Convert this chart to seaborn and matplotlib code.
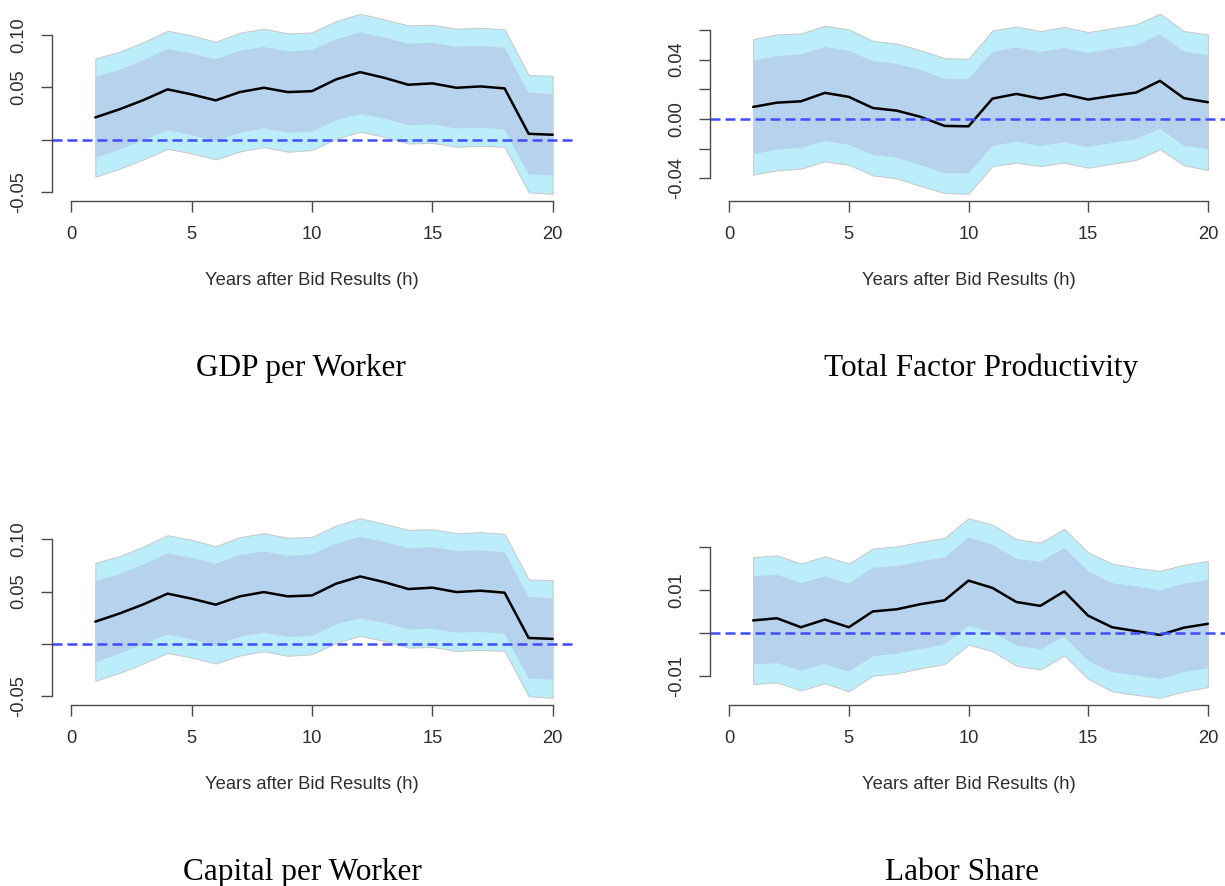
import pandas as pd
import matplotlib
matplotlib.use("Agg")
from matplotlib import pyplot as plt
import seaborn as sns

sns.set_theme(style="ticks")
plt.rcParams["font.family"] = ["Liberation Sans", "DejaVu Sans"]

h = list(range(1, 21))

# GDP per worker (capital per worker panel shows the same estimates)
gdp_mean = [0.0213, 0.029, 0.0378, 0.048, 0.0432, 0.0375, 0.0454, 0.0495, 0.0454, 0.0463,
            0.0575, 0.0644, 0.059, 0.0524, 0.0537, 0.0495, 0.0508, 0.0489, 0.0057, 0.0048]
gdp_hi68 = [0.060, 0.0663, 0.0759, 0.0863, 0.0822, 0.0765, 0.0848, 0.0883, 0.0841, 0.0854,
            0.0956, 0.1022, 0.0975, 0.0914, 0.0924, 0.0886, 0.0892, 0.0876, 0.0448, 0.0435]
gdp_lo68 = [-0.0175, -0.0092, -0.0003, 0.0092, 0.0044, -0.0013, 0.0067, 0.0108, 0.0067, 0.0076,
            0.0187, 0.0244, 0.0203, 0.0137, 0.0146, 0.0108, 0.0114, 0.0098, -0.033, -0.034]
gdp_hi95 = [0.0775, 0.0838, 0.093, 0.1038, 0.0994, 0.0933, 0.1019, 0.1057, 0.1013, 0.1022,
            0.113, 0.12, 0.1146, 0.1089, 0.1095, 0.1057, 0.1067, 0.1051, 0.0616, 0.061]
gdp_lo95 = [-0.0352, -0.0276, -0.0187, -0.0086, -0.013, -0.0187, -0.0111, -0.007, -0.0114, -0.0098,
            0.001, 0.0076, 0.0029, -0.0035, -0.0029, -0.0067, -0.0057, -0.0067, -0.050, -0.0514]

tfp_mean = [0.0081, 0.011, 0.0119, 0.0176, 0.0149, 0.0074, 0.0056, 0.0014, -0.0047, -0.005,
            0.0137, 0.0169, 0.0137, 0.0167, 0.0131, 0.0156, 0.0178, 0.0257, 0.014, 0.0113]
tfp_hi68 = [0.0394, 0.0424, 0.0435, 0.0485, 0.046, 0.039, 0.0372, 0.0331, 0.027, 0.0268,
            0.0453, 0.0482, 0.0453, 0.0478, 0.0446, 0.0473, 0.0496, 0.057, 0.0455, 0.043]
tfp_lo68 = [-0.0239, -0.0207, -0.0196, -0.0149, -0.0174, -0.0243, -0.0261, -0.0311, -0.0365, -0.0367,
            -0.0183, -0.0153, -0.0183, -0.0158, -0.0189, -0.0162, -0.0137, -0.0065, -0.018, -0.0205]
tfp_hi95 = [0.0539, 0.057, 0.0577, 0.0629, 0.0604, 0.0527, 0.0509, 0.0464, 0.041, 0.0406,
            0.0597, 0.0624, 0.0593, 0.062, 0.0586, 0.0613, 0.0638, 0.071, 0.0593, 0.057]
tfp_lo95 = [-0.0376, -0.0347, -0.0336, -0.0286, -0.0309, -0.0381, -0.0401, -0.0453, -0.05, -0.0505,
            -0.0318, -0.0295, -0.0318, -0.0295, -0.0329, -0.0302, -0.0277, -0.0205, -0.0313, -0.0345]

cap_mean = list(gdp_mean)
cap_hi68 = list(gdp_hi68)
cap_lo68 = list(gdp_lo68)
cap_hi95 = list(gdp_hi95)
cap_lo95 = list(gdp_lo95)

lab_mean = [0.0029, 0.0034, 0.0013, 0.0031, 0.0013, 0.005, 0.0055, 0.0067, 0.0076, 0.0122,
            0.0105, 0.0072, 0.0063, 0.0097, 0.004, 0.0013, 0.0004, -0.0005, 0.0012, 0.0021]
lab_hi68 = [0.0132, 0.0136, 0.0116, 0.0132, 0.0115, 0.0152, 0.0156, 0.0167, 0.0176, 0.0223,
            0.0206, 0.0173, 0.0166, 0.0198, 0.0144, 0.0116, 0.0109, 0.0099, 0.0115, 0.0123]
lab_lo68 = [-0.0074, -0.0071, -0.0088, -0.0073, -0.0091, -0.0055, -0.0049, -0.0038, -0.0027, 0.0016,
            0.0002, -0.003, -0.0039, -0.0009, -0.0065, -0.0092, -0.01, -0.0108, -0.0092, -0.0083]
lab_hi95 = [0.0177, 0.0181, 0.0162, 0.0179, 0.0162, 0.0197, 0.0202, 0.0213, 0.0222, 0.0268,
            0.0253, 0.0219, 0.0211, 0.0243, 0.0188, 0.0162, 0.0152, 0.0145, 0.0159, 0.0168]
lab_lo95 = [-0.012, -0.0116, -0.0135, -0.0118, -0.0137, -0.01, -0.0095, -0.0083, -0.0073, -0.0028,
            -0.0043, -0.0077, -0.0086, -0.0053, -0.0108, -0.0137, -0.0145, -0.0152, -0.0137, -0.0127]

titles = ["GDP per Worker", "Total Factor Productivity", "Capital per Worker", "Labor Share"]
title_x = [301, 981, 302, 962]
title_base = [376, 376, 880, 880]

gdp_ticks = [-0.05, 0.0, 0.05, 0.10]
gdp_labels = ["-0.05", "", "0.05", "0.10"]
tfp_ticks = [-0.04, -0.02, 0.0, 0.02, 0.04, 0.06]
tfp_labels = ["-0.04", "", "0.00", "", "0.04", ""]
lab_ticks = [-0.01, 0.0, 0.01, 0.02]
lab_labels = ["-0.01", "", "0.01", ""]

OUTER = "#bcedfb"
INNER = "#b7d2ec"
AXC = "#4a4a4a"
TXT = "#2e2e2e"

W, H = 1225, 886
fig = plt.figure(figsize=(W / 100, H / 100), dpi=100)

# plot regions in pixels: (left, top, right, bottom)
regions = [(52, 6.5, 572, 201), (710, 6.5, 1227, 201),
           (52, 511, 572, 705), (710, 511, 1227, 705)]

panels = [
    (gdp_mean, gdp_lo68, gdp_hi68, gdp_lo95, gdp_hi95, gdp_ticks, gdp_labels),
    (tfp_mean, tfp_lo68, tfp_hi68, tfp_lo95, tfp_hi95, tfp_ticks, tfp_labels),
    (cap_mean, cap_lo68, cap_hi68, cap_lo95, cap_hi95, gdp_ticks, gdp_labels),
    (lab_mean, lab_lo68, lab_hi68, lab_lo95, lab_hi95, lab_ticks, lab_labels),
]

for i, (reg, p) in enumerate(zip(regions, panels)):
    l, t, r, b = reg
    ax = fig.add_axes([l / W, 1 - b / H, (r - l) / W, (b - t) / H])
    mean, lo68, hi68, lo95, hi95, yt, yl = p

    ax.fill_between(h, lo95, hi95, facecolor=OUTER, edgecolor="#c8c8c8", lw=0.7)
    ax.fill_between(h, lo68, hi68, facecolor=INNER, edgecolor="none", lw=0)
    df = pd.DataFrame({"h": h, "irf": mean})
    sns.lineplot(data=df, x="h", y="irf", ax=ax, color="black", lw=1.8)
    ax.axhline(0, color="#3d4dff", ls=(0, (4, 2)), lw=1.8, clip_on=False)

    lo = min(lo95)
    hi = max(hi95)
    pad = 0.04 * (hi - lo)
    ax.set_ylim(lo - pad, hi + pad)
    ax.set_xlim(-0.8, 20.8)
    ax.set_xticks([0, 5, 10, 15, 20])
    ax.set_yticks(yt)
    ax.set_yticklabels(yl, rotation=90, va="center")

    sns.despine(ax=ax)
    ax.spines["left"].set_bounds(yt[0], yt[-1])
    ax.spines["bottom"].set_bounds(0, 20)
    for s in ("left", "bottom"):
        ax.spines[s].set_color(AXC)
        ax.spines[s].set_linewidth(1.0)
    ax.tick_params(direction="out", length=8, width=1.0, color=AXC,
                   labelsize=13.2, labelcolor=TXT, pad=10)
    ax.set_xlabel("Years after Bid Results (h)", fontsize=13.2, color=TXT, labelpad=21)
    ax.set_ylabel("")
    ax.grid(False)
    ax.set_facecolor("white")

    fig.text(title_x[i] / W, 1 - title_base[i] / H, titles[i], ha="center", va="baseline",
             fontsize=22.5, family=["Liberation Serif", "DejaVu Serif"], color="black")

fig.savefig("out.png", dpi=100, facecolor="white")
